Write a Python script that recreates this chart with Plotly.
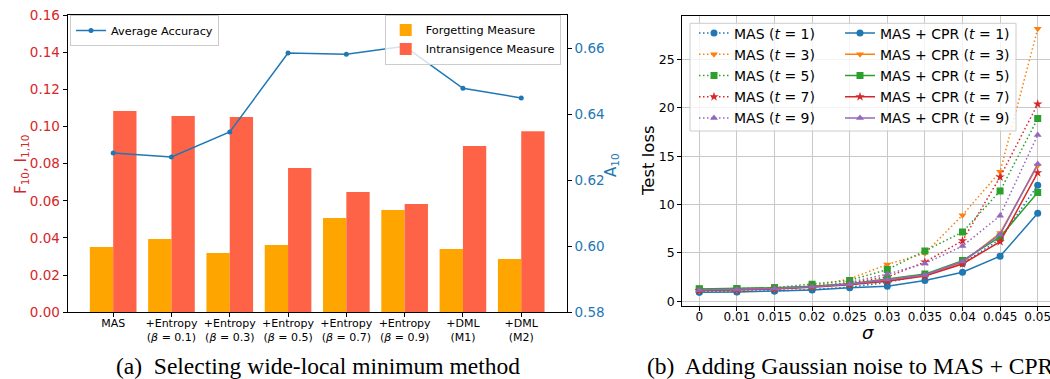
import plotly.graph_objects as go

W, H = 1050, 379

# ---------------- (a) data ----------------
methods = [
    "MAS",
    "+Entropy<br>(<i>β</i> = 0.1)",
    "+Entropy<br>(<i>β</i> = 0.3)",
    "+Entropy<br>(<i>β</i> = 0.5)",
    "+Entropy<br>(<i>β</i> = 0.7)",
    "+Entropy<br>(<i>β</i> = 0.9)",
    "+DML<br>(M1)",
    "+DML<br>(M2)",
]
forgetting = [0.0351, 0.0394, 0.0319, 0.0362, 0.0507, 0.0550, 0.0341, 0.0287]
intransigence = [0.1083, 0.1056, 0.1051, 0.0776, 0.0647, 0.0583, 0.0895, 0.0975]
avg_accuracy = [0.6282, 0.6270, 0.6346, 0.6585, 0.6581, 0.6605, 0.6478, 0.6449]

# ---------------- (b) data ----------------
sigmas = ["0", "0.01", "0.015", "0.02", "0.025", "0.03", "0.035", "0.04", "0.045", "0.05"]
mas_t1 = [0.95, 0.98, 1.05, 1.2, 1.45, 1.95, 2.7, 3.9, 6.4, 12.0]
mas_t3 = [1.05, 1.1, 1.2, 1.55, 2.3, 3.8, 4.95, 8.9, 13.4, 28.2]
mas_t5 = [1.28, 1.3, 1.4, 1.75, 2.15, 3.27, 5.2, 7.15, 11.4, 18.9]
mas_t7 = [1.1, 1.15, 1.25, 1.5, 1.9, 2.5, 4.05, 6.25, 12.85, 20.4]
mas_t9 = [1.15, 1.2, 1.3, 1.5, 1.95, 2.8, 3.9, 5.7, 8.85, 17.2]
cpr_t1 = [0.93, 0.95, 1.05, 1.15, 1.4, 1.55, 2.15, 3.0, 4.65, 9.1]
cpr_t3 = [1.1, 1.15, 1.3, 1.5, 1.75, 2.2, 2.7, 4.0, 7.05, 14.05]
cpr_t5 = [1.25, 1.3, 1.4, 1.55, 1.8, 2.3, 2.8, 4.2, 6.65, 11.25]
cpr_t7 = [1.1, 1.15, 1.25, 1.45, 1.7, 2.05, 2.6, 3.85, 6.15, 13.3]
cpr_t9 = [1.15, 1.2, 1.3, 1.5, 1.75, 2.25, 2.7, 4.1, 6.9, 14.2]
t_values = [1, 3, 5, 7, 9]

colors = ["#1f77b4", "#ff7f0e", "#2ca02c", "#d62728", "#9467bd"]
symbols = ["circle", "triangle-down", "square", "star", "triangle-up"]

FONT = "DejaVu Sans"
SERIF = "Liberation Serif"
RED = "#d62728"
BLUE = "#1f77b4"

fig = go.Figure()

# ---- (a) bars ----
fig.add_trace(go.Bar(x=methods, y=forgetting, name="Forgetting Measure",
                     marker=dict(color="#FFA500", line=dict(width=0)),
                     xaxis="x", yaxis="y", legend="legend"))
fig.add_trace(go.Bar(x=methods, y=intransigence, name="Intransigence Measure",
                     marker=dict(color="#FF6347", line=dict(width=0)),
                     xaxis="x", yaxis="y", legend="legend"))
fig.add_trace(go.Scatter(x=methods, y=avg_accuracy, name="Average Accuracy",
                         mode="lines+markers", line=dict(color=BLUE, width=1.5),
                         marker=dict(size=5, color=BLUE),
                         xaxis="x", yaxis="y2", legend="legend2"))

# ---- (b) lines ----
mas_series = [mas_t1, mas_t3, mas_t5, mas_t7, mas_t9]
cpr_series = [cpr_t1, cpr_t3, cpr_t5, cpr_t7, cpr_t9]
for i, (t, ys) in enumerate(zip(t_values, mas_series)):
    fig.add_trace(go.Scatter(x=sigmas, y=ys, name=f"MAS (<i>t</i> = {t})",
                             mode="lines+markers",
                             line=dict(color=colors[i], width=1.5, dash="1.5px,2.5px"),
                             marker=dict(symbol=symbols[i], size=7, color=colors[i]),
                             xaxis="x2", yaxis="y3", legend="legend3"))
for i, (t, ys) in enumerate(zip(t_values, cpr_series)):
    fig.add_trace(go.Scatter(x=sigmas, y=ys, name=f"MAS + CPR (<i>t</i> = {t})",
                             mode="lines+markers",
                             line=dict(color=colors[i], width=1.5),
                             marker=dict(symbol=symbols[i], size=7, color=colors[i]),
                             xaxis="x2", yaxis="y3", legend="legend4"))

def px_x(p):
    return p / W

def px_y(p):
    return (H - p) / H

axis_common = dict(showline=True, linecolor="black", linewidth=1.2,
                   ticks="outside", ticklen=4, tickcolor="black", zeroline=False,
                   automargin=False)

def label(text, x, y, size, color="black", angle=0, family=FONT):
    return dict(text=text, xref="paper", yref="paper", x=px_x(x), y=px_y(y),
                xanchor="center", yanchor="middle", showarrow=False, textangle=angle,
                font=dict(family=family, size=size, color=color))

fig.update_layout(
    width=W, height=H,
    margin=dict(l=0, r=0, t=0, b=0, autoexpand=False),
    paper_bgcolor="white", plot_bgcolor="white",
    font=dict(family=FONT, color="black"),
    barmode="group", bargap=0.2, bargroupgap=0,
    xaxis=dict(domain=[px_x(67.7), px_x(566.7)], anchor="y", type="category",
               range=[-0.78, 7.78], showgrid=False, mirror=True, ticklabelstandoff=-4,
               tickfont=dict(size=11), **axis_common),
    yaxis=dict(domain=[px_y(312.3), px_y(15)], anchor="x", range=[0, 0.16],
               tickvals=[0, 0.02, 0.04, 0.06, 0.08, 0.10, 0.12, 0.14, 0.16],
               tickformat=".2f", showgrid=False, mirror=True,
               tickfont=dict(size=13.5, color=RED), **axis_common),
    yaxis2=dict(overlaying="y", side="right", anchor="x", range=[0.58, 0.67],
                tickvals=[0.58, 0.60, 0.62, 0.64, 0.66], tickformat=".2f",
                showgrid=False, tickfont=dict(size=13.5, color=BLUE), **axis_common),
    xaxis2=dict(domain=[px_x(682.3), 1.0], anchor="y3", type="category",
                range=[-0.452, 9.327], showgrid=True, gridcolor="#c8c8c8", gridwidth=1,
                mirror=True, ticklabelstandoff=-4, tickfont=dict(size=12), **axis_common),
    yaxis3=dict(domain=[px_y(305.7), px_y(15.7)], anchor="x2", range=[-0.47, 29.55],
                tickvals=[0, 5, 10, 15, 20, 25], showgrid=True, gridcolor="#c8c8c8",
                gridwidth=1, tickfont=dict(size=12.5), **axis_common),
    legend=dict(x=px_x(560.7), xanchor="right", y=px_y(14.5), yanchor="top",
                bgcolor="rgba(255,255,255,0.8)", bordercolor="#cccccc", borderwidth=1,
                font=dict(size=11.3), tracegroupgap=0),
    legend2=dict(x=px_x(70), xanchor="left", y=px_y(15), yanchor="top",
                 bgcolor="rgba(255,255,255,0.8)", bordercolor="#cccccc", borderwidth=1,
                 font=dict(size=11.3)),
    legend3=dict(x=px_x(694), xanchor="left", y=px_y(17.5), yanchor="top",
                 bgcolor="rgba(0,0,0,0)", borderwidth=0, font=dict(size=14)),
    legend4=dict(x=px_x(840), xanchor="left", y=px_y(17.5), yanchor="top",
                 bgcolor="rgba(0,0,0,0)", borderwidth=0, font=dict(size=14)),
    shapes=[dict(type="rect", xref="paper", yref="paper",
                 x0=px_x(690), x1=px_x(1016), y0=px_y(131), y1=px_y(23.3),
                 fillcolor="rgba(255,255,255,0.8)", line=dict(color="#cccccc", width=1),
                 layer="above")],
    annotations=[
        label("F<sub>10</sub>, I<sub>1,10</sub>", 21, 165, 15, RED, -90),
        label("A<sub>10</sub>", 611, 165, 15, BLUE, -90),
        label("Test loss", 648, 161, 16.5, "black", -90),
        label("<i>σ</i>", 868, 332, 18),
        label("(a)  Selecting wide-local minimum method", 318, 366, 23.5, family=SERIF),
        dict(text="(b)  Adding Gaussian noise to MAS + CPR", xref="paper", yref="paper",
             x=px_x(645), y=px_y(366), xanchor="left", yanchor="middle", showarrow=False,
             font=dict(family=SERIF, size=23.5, color="black")),
    ],
)

fig.write_html(
    "out.html",
    config={"displayModeBar": False},
    post_script="document.body.style.margin='0';document.body.style.padding='0';"
                "document.body.style.overflow='hidden';",
)
